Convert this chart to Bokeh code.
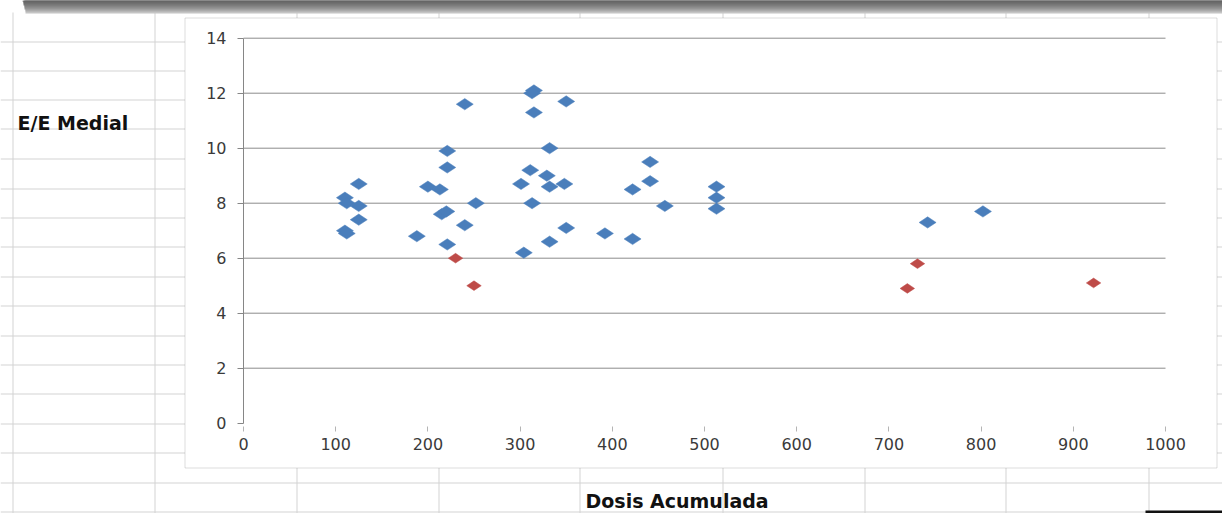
import math
from bokeh.plotting import figure
from bokeh.models import (Range1d, FixedTicker, BoxAnnotation, Label, LinearAxis)
from bokeh.embed import file_html
from bokeh.resources import INLINE

# Cumulative dose vs. medial E/E, two groups
dose_blue = [110, 112, 110, 112, 125, 125, 125,
             188, 200, 213, 215, 220, 221, 221, 221, 240, 240, 252,
             301, 304, 311, 313, 315, 313, 315, 329, 332, 332, 332, 348, 350, 350,
             392, 422, 422, 441, 441, 457,
             513, 513, 513,
             742, 802]
ee_blue = [8.2, 8.0, 7.0, 6.9, 8.7, 7.9, 7.4,
           6.8, 8.6, 8.5, 7.6, 7.7, 9.9, 9.3, 6.5, 11.6, 7.2, 8.0,
           8.7, 6.2, 9.2, 8.0, 12.1, 12.0, 11.3, 9.0, 10.0, 8.6, 6.6, 8.7, 11.7, 7.1,
           6.9, 8.5, 6.7, 9.5, 8.8, 7.9,
           8.6, 8.2, 7.8,
           7.3, 7.7]

dose_red = [230, 250, 720, 731, 922]
ee_red = [6.0, 5.0, 4.9, 5.8, 5.1]

x_ticks = [0, 100, 200, 300, 400, 500, 600, 700, 800, 900, 1000]
y_ticks = [0, 2, 4, 6, 8, 10, 12, 14]

W, H = 1222, 513

# plot area inside the canvas (pixels)
PX_LEFT, PX_RIGHT = 243.0, 1165.0
PX_TOP, PX_BOTTOM = 37.7, 422.7
kx = (PX_RIGHT - PX_LEFT) / (x_ticks[-1] - x_ticks[0])
ky = (PX_BOTTOM - PX_TOP) / (y_ticks[-1] - y_ticks[0])

x_range = Range1d(x_ticks[0] - PX_LEFT / kx, x_ticks[-1] + (W - PX_RIGHT) / kx)
y_range = Range1d(y_ticks[0] - (H - PX_BOTTOM) / ky, y_ticks[-1] + PX_TOP / ky)

p = figure(width=W, height=H, output_backend="svg", toolbar_location=None,
           x_range=x_range, y_range=y_range, x_axis_type=None, y_axis_type=None,
           min_border=0)
p.outline_line_color = None
p.background_fill_color = "white"
p.border_fill_color = "white"
p.grid.visible = False

# --- worksheet backdrop -------------------------------------------------
SHEET = "#d4d4d4"
row_y = [41, 70, 99, 128, 158, 188, 217, 246, 276, 305, 335, 364, 393, 423, 452, 482, 511]
col_x = [12, 154, 296, 438, 579, 722, 864, 1005, 1148]


def canvas_box(left, right, top, bottom, color, line=None):
    b = BoxAnnotation(left=left, right=right, top=top, bottom=bottom,
                      left_units="canvas", right_units="canvas",
                      top_units="canvas", bottom_units="canvas",
                      fill_color=color, fill_alpha=1.0,
                      line_color=line, line_width=1, level="image",
                      propagate_hover=False)
    p.add_layout(b)
    return b


for yy in row_y:
    canvas_box(0, W, yy, yy + 1, SHEET)
for xx in col_x:
    canvas_box(xx, xx + 1, 12, H, SHEET)

# window shadow along the top edge: overlapping bands, darker towards the top
shades = ["#c4c4c4", "#aaaaaa", "#959595", "#858585", "#777777", "#6b6b6b", "#626262"]
for i, c in enumerate(shades):
    canvas_box(22 + (len(shades) - i) // 2, W, 0, 13 - 2 * i, c)

# dark strip in the lower right corner
canvas_box(1145, W, 510, H, "#111111")

# chart area
canvas_box(184.5, 1216.5, 17.5, 467.5, "white", line="#8c8c8c")

# --- horizontal grid lines ----------------------------------------------
p.segment(x0=[x_ticks[0]] * (len(y_ticks) - 1), x1=[x_ticks[-1]] * (len(y_ticks) - 1),
          y0=y_ticks[1:], y1=y_ticks[1:], line_color="#8c8c8c", line_width=1)

# --- axes ---------------------------------------------------------------
TICK_FONT = "DejaVu Sans"
TXT = "#3a3a3a"

yax = LinearAxis(fixed_location=x_ticks[0], bounds=(y_ticks[0], y_ticks[-1]),
                 ticker=FixedTicker(ticks=y_ticks))
yax.axis_line_color = "#868686"
yax.major_tick_line_color = "#868686"
yax.major_tick_out = 6
yax.major_tick_in = 0
yax.minor_tick_line_color = None
yax.major_label_standoff = 11
yax.major_label_text_font = TICK_FONT
yax.major_label_text_font_size = "16px"
yax.major_label_text_color = TXT
p.add_layout(yax, "left")

xax = LinearAxis(fixed_location=y_ticks[0], bounds=(x_ticks[0], x_ticks[-1]),
                 ticker=FixedTicker(ticks=x_ticks))
xax.axis_line_color = None
xax.major_tick_line_color = "#b4b4b4"
xax.major_tick_out = 8
xax.major_tick_in = -3
xax.minor_tick_line_color = None
xax.major_label_standoff = 7
xax.major_label_text_font = TICK_FONT
xax.major_label_text_font_size = "16px"
xax.major_label_text_color = TXT
p.add_layout(xax, "below")

# --- points -------------------------------------------------------------
p.scatter(dose_blue, ee_blue, marker="diamond", angle=math.pi / 2, size=17,
          fill_color="#4a7ebb", line_color="#4a7ebb", line_width=0.5)
p.scatter(dose_red, ee_red, marker="diamond", angle=math.pi / 2, size=14.5,
          fill_color="#be4b48", line_color="#be4b48", line_width=0.5)

# --- worksheet cell texts -----------------------------------------------
p.add_layout(Label(x=17, y=122, x_units="canvas", y_units="canvas",
                   text="E/E Medial", text_font="DejaVu Sans",
                   text_font_style="bold", text_font_size="19px",
                   text_color="#111111", text_baseline="alphabetic"))
p.add_layout(Label(x=585, y=500, x_units="canvas", y_units="canvas",
                   text="Dosis Acumulada", text_font="DejaVu Sans",
                   text_font_style="bold", text_font_size="19px",
                   text_color="#111111", text_baseline="alphabetic"))

open("out.html", "w").write(file_html(p, INLINE))
